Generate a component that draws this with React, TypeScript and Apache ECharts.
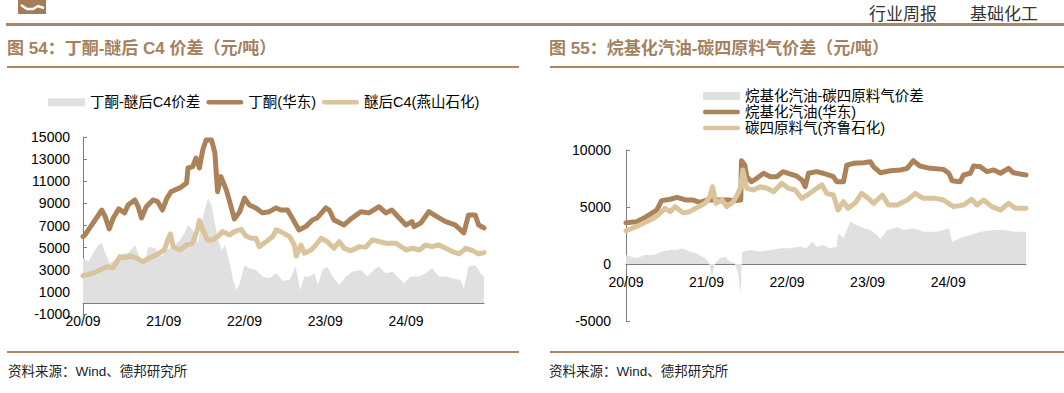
import React, { useEffect, useRef } from 'react';
import * as echarts from 'echarts';

// x values are months since 2020-09
const xLabels = ['20/09', '21/09', '22/09', '23/09', '24/09'];
const xTickMonths = [0, 12, 24, 36, 48];
const leftYTicks = [-1000, 1000, 3000, 5000, 7000, 9000, 11000, 13000, 15000];
const rightYTicks = [-5000, 0, 5000, 10000];

const leftNames = ['丁酮-醚后C4价差', '丁酮(华东)', '醚后C4(燕山石化)'];
const rightNames = ['烷基化汽油-碳四原料气价差', '烷基化汽油(华东)', '碳四原料气(齐鲁石化)'];

const butanone: [number, number][] = [
  [0, 6000], [0.3, 6150], [1, 6780], [2, 7680], [2.8, 8400], [3.3, 7800], [3.9, 6690], [4.5, 7680],
  [5.3, 8500], [6.2, 8140], [6.7, 8860], [7.7, 9310], [8.2, 8700], [8.7, 7680], [9.4, 8700], [10.4, 9310],
  [11.1, 9160], [11.8, 8400], [12.5, 9490], [13.1, 10060], [14.4, 10400], [15.4, 10850], [15.6, 12200],
  [16.3, 12320], [16.8, 13100], [17.3, 12200], [17.8, 13830], [18.3, 14730], [19.1, 14730], [19.6, 13560],
  [20, 10060], [20.5, 11420], [21.3, 10220], [22, 8700], [22.5, 7590], [23.3, 8250], [24, 9490], [24.7, 8860],
  [25.7, 8590], [26.7, 8140], [27.7, 8250], [28.7, 8590], [29.4, 8400], [30.4, 8400], [31.1, 7680], [32.1, 6600],
  [33.1, 6900], [34.1, 7500], [34.8, 7680], [36.1, 8590], [36.6, 8400], [37.3, 7500], [38.8, 7050], [40, 7680],
  [41.3, 8250], [42.5, 8140], [44, 8700], [45, 8140], [45.9, 8400], [47, 7680], [48, 7050], [48.9, 7350],
  [49.2, 6900], [50.2, 7230], [51.4, 8250], [52.6, 7800], [53.9, 7350], [55.3, 7050], [56.6, 6330], [57.3, 7950],
  [58.3, 7950], [58.8, 7050], [59.6, 6780],
];

const etherC4: [number, number][] = [
  [0, 2450], [0.3, 2530], [1.5, 2680], [2.5, 2980], [3.5, 3280], [4.5, 3190], [5.5, 4190], [6.2, 4070],
  [7, 4250], [7.9, 4070], [8.9, 3730], [9.9, 4070], [10.9, 4340], [12.1, 4790], [12.6, 5700], [13, 6240],
  [13.4, 5090], [14.4, 4790], [15.4, 5240], [16.3, 5400], [17, 6600], [17.3, 7440], [17.8, 6600], [18.5, 5700],
  [19.3, 5700], [20.3, 6150], [20.7, 6450], [21.8, 6150], [22.5, 6450], [23.5, 6660], [24.2, 6060], [25, 5850],
  [25.7, 5850], [26.2, 5090], [27.2, 5540], [28.2, 6000], [28.7, 6600], [29.4, 6450], [30.7, 6000], [31.4, 5240],
  [31.7, 4250], [32.4, 5240], [32.9, 4490], [33.9, 4790], [34.6, 5240], [35.4, 5850], [36.3, 5540], [37.3, 4940],
  [38.1, 5540], [38.8, 4940], [39.8, 4730], [41.1, 5090], [42, 5030], [43, 5700], [45, 5400], [46.5, 5400],
  [48, 4790], [49, 4940], [50, 4790], [50.9, 5240], [51.9, 5090], [52.9, 5240], [53.9, 4940], [54.9, 4640],
  [55.9, 4430], [56.9, 4940], [57.9, 4730], [58.8, 4430], [59.6, 4550],
];

const butanoneSpread: [number, number][] = [
  [0, 4040], [0.8, 3730], [1.5, 4490], [2.3, 5240], [2.8, 5400], [3.3, 4520], [4, 3590], [5, 4040], [6, 4490],
  [6.7, 4490], [7.7, 5240], [8.4, 4190], [9.2, 3590], [9.7, 5090], [10.7, 4940], [11.7, 4190], [12.4, 4790],
  [13.4, 5090], [14.4, 5700], [15.1, 6300], [15.6, 7050], [16.3, 6600], [17.1, 5400], [17.6, 7200], [18.1, 8400],
  [18.6, 9460], [19.1, 8860], [19.6, 7200], [20.1, 5700], [20.6, 4790], [21.1, 5240], [21.8, 3590], [22.3, 2080],
  [22.8, 1180], [23.3, 1780], [24, 3430], [24.7, 3130], [25.7, 2980], [26.7, 2380], [27.7, 2230], [28.7, 2680],
  [29.7, 2000], [30.7, 2080], [31.6, 3280], [32, 2080], [32.3, 1180], [32.9, 2380], [33.6, 2380], [34.4, 2680],
  [34.9, 1630], [35.6, 2980], [36.3, 3280], [37.1, 2380], [38.1, 1630], [39.1, 2380], [40, 2830], [41.3, 2980],
  [42.3, 2380], [43.5, 3130], [44, 3280], [45, 2680], [46, 2830], [47, 2230], [47.7, 1780], [48.7, 2380],
  [49.9, 2380], [50.9, 2680], [51.9, 3130], [52.9, 2380], [53.9, 2380], [54.9, 2230], [56.1, 2080], [56.6, 1330],
  [57.3, 3280], [58.3, 3430], [59.1, 2680], [59.6, 2380],
];

const alkylate: [number, number][] = [
  [0, 3620], [1.6, 3710], [2.6, 4010], [3.8, 4450], [4.6, 4740], [5.3, 5560], [6.6, 5680], [7.6, 5850], [9, 5610],
  [10, 5610], [11, 5410], [12, 5610], [13.5, 5610], [15, 5610], [16.5, 5560], [17.1, 5610], [17.2, 9060],
  [17.7, 8680], [18, 7660], [18.7, 7220], [19.5, 7520], [20.5, 7960], [21.5, 7660], [22.5, 7660], [23.4, 8100],
  [24.4, 7900], [25.4, 7720], [26.2, 7370], [26.7, 6780], [27.2, 7960], [28.4, 8100], [29.4, 7960], [30.9, 7660],
  [31.4, 7220], [32.4, 7220], [32.9, 8680], [33.9, 8830], [35.4, 8890], [36.4, 8970], [36.9, 8530], [37.9, 8010],
  [39.4, 8180], [40.9, 8250], [41.9, 8390], [42.8, 9060], [43.8, 8600], [45.3, 8390], [47.3, 8300], [48.1, 7960],
  [48.6, 7310], [49.8, 7220], [50.3, 7810], [51.3, 7960], [51.8, 8600], [52.8, 8530], [53.8, 8100], [54.8, 8250],
  [55.8, 7960], [57, 8390], [57.7, 8010], [59.6, 7810],
];

const c4Feed: [number, number][] = [
  [0, 2920], [1.3, 3220], [2.6, 3570], [4.1, 4010], [4.8, 4300], [5.8, 4890], [6.6, 4590], [7.3, 5030],
  [8.5, 4500], [9.5, 4590], [10.8, 5030], [11.8, 5320], [12.5, 5900], [12.9, 6780], [13.4, 5320], [14.3, 5610],
  [15, 5030], [16, 5470], [16.7, 6200], [17.1, 6780], [17.4, 8250], [18, 6640], [19, 6490], [20, 6780],
  [21, 6640], [22, 6340], [23.2, 7080], [24.2, 6640], [25.2, 6490], [26.2, 5760], [27.4, 6200], [28.4, 6640],
  [29.2, 6930], [29.9, 6200], [30.9, 6050], [31.6, 4740], [32.4, 5470], [33.1, 4890], [34.1, 5320], [35.1, 6200],
  [36.1, 5760], [36.9, 5320], [38.2, 6050], [39.1, 5180], [40.4, 5180], [41.9, 5610], [43.1, 6200], [44.3, 5760],
  [46.1, 5760], [47.3, 5610], [48.8, 5030], [50.3, 5180], [51.5, 5680], [52.3, 5180], [53.3, 5610], [54.5, 5030],
  [55.8, 4740], [57, 5320], [58, 4890], [59.6, 4890],
];

const alkylateSpread: [number, number][] = [
  [0, 790], [1.6, 500], [2.8, 790], [4.1, 790], [5.3, 1080], [6.3, 1230], [7.6, 1230], [8.3, 1380], [9.5, 1080],
  [10.5, 940], [11.8, 500], [12.3, 200], [12.8, -1100], [13.3, 60], [14, 500], [14.8, 640], [15.5, 200],
  [16.2, 60], [16.7, -820], [17.1, -2600], [17.3, 1080], [18.5, 1230], [20, 1080], [21.5, 1230], [23, 1380],
  [24.4, 1380], [25.9, 1520], [26.9, 1380], [27.8, 1960], [28.4, 1520], [29.4, 1670], [30.4, 1380], [31.4, 1520],
  [31.6, 2690], [32.4, 2250], [33.4, 3710], [34.4, 3420], [35.4, 3130], [36.4, 2980], [37.4, 2540], [37.9, 2170],
  [38.9, 2980], [40.4, 3220], [41.4, 2980], [42.9, 3130], [44.3, 2830], [46.3, 2830], [48.1, 3130], [48.6, 1960],
  [49.8, 2250], [51.3, 2540], [52.8, 2830], [54.8, 2980], [56.3, 2980], [57.7, 2830], [59.6, 2830],
];

const BROWN = '#ab8259';
const TAN = '#d9c49c';
const GRAY = '#e0e0e0';
const TITLE = '#a4815f';
const RULE = '#a98666';
const AXIS = '#7f7f7f';
const FONT = 'Liberation Sans, "Noto Sans CJK SC", sans-serif';
const CJK = '"Noto Sans CJK SC", sans-serif';
const LINE_ICON = 'path://M2,0L38,0A2.5,2.5,0,0,1,38,5L2,5A2.5,2.5,0,0,1,2,0Z';

// grid geometry
const L = { left: 83, top: 137, width: 401, height: 177, min: -1000, max: 15000 };
const R = { left: 626, top: 150, width: 400, height: 171, min: -5000, max: 10000 };
// offset that places the x axis at value 0 of the y scale
const zeroOffset = (g: typeof L) => -g.height * (0 - g.min) / (g.max - g.min);

function xAxisFor(gridIndex: number, offset: number) {
  return {
    type: 'value',
    gridIndex,
    min: 0,
    max: 59.6,
    offset,
    axisLine: { show: true, onZero: false, lineStyle: { color: AXIS, width: 1 } },
    axisTick: { show: true, inside: true, length: 4, customValues: xTickMonths, lineStyle: { color: AXIS } },
    axisLabel: {
      customValues: xTickMonths,
      margin: 11,
      fontSize: 14,
      color: '#000',
      fontFamily: FONT,
      formatter: (v: number) => xLabels[Math.round(v / 12)] ?? '',
    },
    splitLine: { show: false },
  };
}

function yAxisFor(gridIndex: number, g: typeof L, ticks: number[], margin: number) {
  return {
    type: 'value',
    gridIndex,
    min: g.min,
    max: g.max,
    axisLine: { show: true, onZero: false, lineStyle: { color: AXIS, width: 1 } },
    axisTick: { show: true, inside: true, length: 4, customValues: ticks, lineStyle: { color: AXIS } },
    axisLabel: {
      customValues: ticks,
      margin,
      fontSize: 14,
      color: '#000',
      fontFamily: FONT,
      formatter: (v: number) => String(v),
    },
    splitLine: { show: false },
  };
}

function areaSeries(name: string, data: [number, number][], axis: number) {
  return {
    name,
    type: 'line',
    xAxisIndex: axis,
    yAxisIndex: axis,
    data,
    showSymbol: false,
    symbol: 'none',
    color: GRAY,
    itemStyle: { color: GRAY },
    lineStyle: { width: 0, color: GRAY },
    areaStyle: { color: GRAY, opacity: 1, origin: 0 },
    z: 1,
  };
}

function lineSeries(name: string, data: [number, number][], axis: number, color: string, z: number) {
  return {
    name,
    type: 'line',
    xAxisIndex: axis,
    yAxisIndex: axis,
    data,
    showSymbol: false,
    symbol: 'none',
    color,
    itemStyle: { color },
    lineStyle: { width: 5, color, cap: 'round', join: 'round' },
    z,
  };
}

function txt(text: string, x: number, y: number, size: number, fill: string, weight = 'normal', family = FONT) {
  return {
    type: 'text',
    x,
    y,
    silent: true,
    style: {
      text,
      fill,
      fontSize: size,
      fontWeight: weight,
      fontFamily: family,
      align: 'left',
      verticalAlign: 'middle',
      textAlign: 'left',
      textVerticalAlign: 'middle',
    },
  };
}

function bar(x: number, y: number, w: number, h: number, fill: string) {
  return { type: 'rect', silent: true, shape: { x, y, width: w, height: h }, style: { fill } };
}

export default function App() {
  const ref = useRef<HTMLDivElement>(null);

  useEffect(() => {
    document.body.style.margin = '0';
    if (!ref.current) return;
    const chart = echarts.init(ref.current, null, { renderer: 'svg' });
    const legendText = { fontSize: 14.5, color: '#000', fontFamily: FONT };
    chart.setOption({
      animation: false,
      backgroundColor: '#ffffff',
      grid: [
        { left: L.left, top: L.top, width: L.width, height: L.height, containLabel: false },
        { left: R.left, top: R.top, width: R.width, height: R.height, containLabel: false },
      ],
      xAxis: [xAxisFor(0, zeroOffset(L)), xAxisFor(1, zeroOffset(R))],
      yAxis: [yAxisFor(0, L, leftYTicks, 13), yAxisFor(1, R, rightYTicks, 15)],
      legend: [
        {
          left: 48,
          top: 95,
          padding: 0,
          itemWidth: 37,
          itemHeight: 8,
          itemGap: 6,
          symbolKeepAspect: true,
          textStyle: legendText,
          itemStyle: { borderWidth: 0 },
          selectedMode: false,
          data: [
            { name: leftNames[0], icon: 'rect' },
            { name: leftNames[1], icon: LINE_ICON },
            { name: leftNames[2], icon: LINE_ICON },
          ],
        },
        {
          left: 703,
          top: 88,
          padding: 0,
          orient: 'vertical',
          itemWidth: 37,
          itemHeight: 8,
          itemGap: 0,
          symbolKeepAspect: true,
          textStyle: { ...legendText, lineHeight: 16 },
          itemStyle: { borderWidth: 0 },
          selectedMode: false,
          data: [
            { name: rightNames[0], icon: 'rect' },
            { name: rightNames[1], icon: LINE_ICON },
            { name: rightNames[2], icon: LINE_ICON },
          ],
        },
      ],
      series: [
        areaSeries(leftNames[0], butanoneSpread, 0),
        lineSeries(leftNames[1], butanone, 0, BROWN, 3),
        lineSeries(leftNames[2], etherC4, 0, TAN, 2),
        areaSeries(rightNames[0], alkylateSpread, 1),
        lineSeries(rightNames[1], alkylate, 1, BROWN, 2),
        lineSeries(rightNames[2], c4Feed, 1, TAN, 3),
      ],
      graphic: [
        bar(18, 0, 28, 14, '#a47d57'),
        {
          type: 'polyline',
          silent: true,
          shape: { points: [[21, 5], [27, 9], [33, 9], [38, 6], [44, 8]] },
          style: { stroke: '#ffffff', lineWidth: 2.5, fill: 'none' },
        },
        txt('行业周报', 869, 12, 17, '#333333', 'normal', CJK),
        txt('基础化工', 970, 12, 17, '#333333', 'normal', CJK),
        bar(6, 23, 1058, 3, RULE),
        txt('图 54：丁酮-醚后 C4 价差（元/吨）', 7, 48, 17, TITLE, 'bold'),
        txt('图 55：烷基化汽油-碳四原料气价差（元/吨）', 549, 48, 17, TITLE, 'bold'),
        bar(7, 66, 512, 2, RULE),
        bar(550, 66, 514, 2, RULE),
        bar(7, 351, 512, 2, RULE),
        bar(550, 351, 514, 2, RULE),
        txt('资料来源：Wind、德邦研究所', 8, 371, 13.5, '#222222'),
        txt('资料来源：Wind、德邦研究所', 549, 371, 13.5, '#222222'),
      ],
    });
    return () => chart.dispose();
  }, []);

  return (
    <div
      ref={ref}
      style={{ position: 'absolute', left: 0, top: 0, width: 1064, height: 393, background: '#fff' }}
    />
  );
}
